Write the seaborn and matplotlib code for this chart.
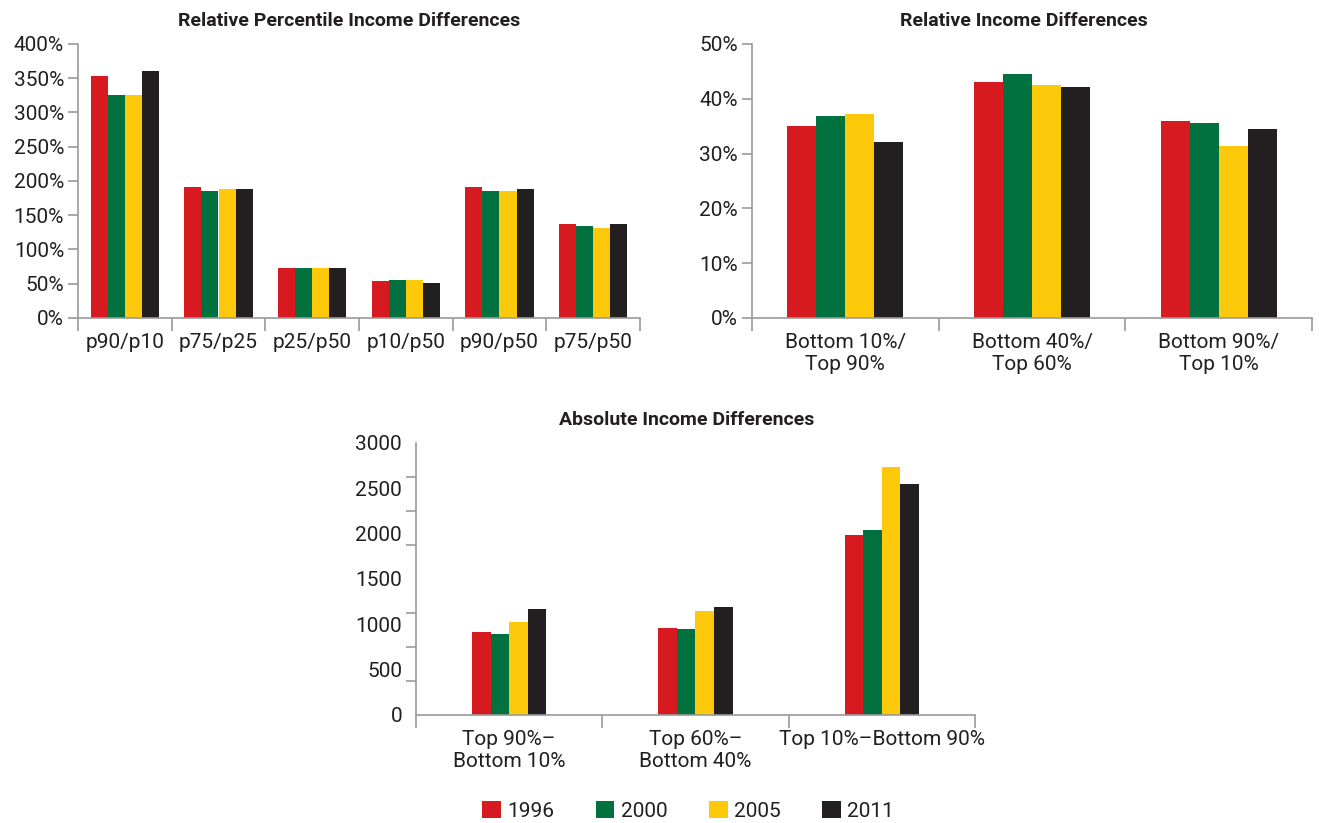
import numpy as np
import pandas as pd
import matplotlib
matplotlib.use("Agg")
import matplotlib.pyplot as plt
import seaborn as sns
from matplotlib.ticker import FixedLocator, FuncFormatter
from matplotlib.patches import Patch

years = ["1996", "2000", "2005", "2011"]
colors = ["#D71920", "#00713F", "#FFC90B", "#231F20"]

# panel 1: relative percentile income differences (%)
pct_labels = ["p90/p10", "p75/p25", "p25/p50", "p10/p50", "p90/p50", "p75/p50"]
pct_1996 = [353, 191, 72.5, 53.5, 191, 137]
pct_2000 = [325, 186, 72.5, 55, 186, 135]
pct_2005 = [326, 188, 72.5, 55, 186, 132]
pct_2011 = [360, 188, 72.5, 50.5, 188, 137]

# panel 2: relative income differences (%)
rel_labels = ["Bottom 10%/\nTop 90%", "Bottom 40%/\nTop 60%", "Bottom 90%/\nTop 10%"]
rel_1996 = [35.0, 43.0, 35.9]
rel_2000 = [36.8, 44.5, 35.5]
rel_2005 = [37.3, 42.6, 31.3]
rel_2011 = [32.1, 42.1, 34.4]

# panel 3: absolute income differences
abs_labels = ["Top 90%\u2013\nBottom 10%", "Top 60%\u2013\nBottom 40%", "Top 10%\u2013Bottom 90%"]
abs_1996 = [910, 965, 1980]
abs_2000 = [888, 953, 2035]
abs_2005 = [1030, 1150, 2735]
abs_2011 = [1172, 1193, 2550]

W, H = 1319, 823
sns.set_style("white")
plt.rcParams['font.family'] = ['Roboto', 'DejaVu Sans']
TXT = "#231F20"
GRAY = "#9A9A9A"
FS = 15


def long_df(labels, series):
    rows = []
    for yr, vals in zip(years, series):
        for lab, v in zip(labels, vals):
            rows.append({"cat": lab, "year": yr, "value": v})
    return pd.DataFrame(rows)


def panel(box, labels, series, width, ymax, ystep, fmt, minor_y=None):
    l, t, r, b = box
    ax = fig.add_axes([l / W, 1 - b / H, (r - l) / W, (b - t) / H])
    df = long_df(labels, series)
    sns.barplot(data=df, x="cat", y="value", hue="year", order=labels,
                hue_order=years, palette=colors, saturation=1, width=width,
                linewidth=0, legend=False, ax=ax)
    n = len(labels)
    ax.set_xlim(-0.5, n - 0.5)
    ax.set_ylim(0, ymax)
    ax.set_xlabel("")
    ax.set_ylabel("")
    sns.despine(ax=ax)
    for s in ["left", "bottom"]:
        ax.spines[s].set_color(GRAY)
        ax.spines[s].set_linewidth(1.2)
    ax.set_xticks(range(n))
    ax.set_xticklabels(labels)
    ax.xaxis.set_minor_locator(FixedLocator(np.arange(-0.5, n, 1.0)))
    ax.tick_params(axis="x", which="both", bottom=True)
    ax.tick_params(axis="x", which="major", length=0, pad=11, labelsize=FS, labelcolor=TXT)
    ax.tick_params(axis="x", which="minor", length=9, width=1.2, color=GRAY, direction="out")
    ax.set_yticks(np.arange(0, ymax + 1e-9, ystep))
    ax.yaxis.set_major_formatter(FuncFormatter(fmt))
    ax.tick_params(axis="y", which="both", left=True)
    if minor_y is not None:
        ax.yaxis.set_minor_locator(FixedLocator(np.arange(0, ymax + 1e-9, minor_y)))
        ax.tick_params(axis="y", which="major", length=0, pad=10)
        ax.tick_params(axis="y", which="minor", length=7, width=1.2, color=GRAY, direction="out")
    else:
        ax.tick_params(axis="y", which="major", length=7, width=1.2, color=GRAY, pad=3)
    ax.tick_params(axis="y", labelsize=FS, labelcolor=TXT)
    return ax


fig = plt.figure(figsize=(W / 100, H / 100), dpi=100)

pct = lambda v, p: f"{v:.0f}%"
panel((78, 44, 640, 318), pct_labels, [pct_1996, pct_2000, pct_2005, pct_2011],
      0.73, 400, 50, pct)
panel((752, 44, 1312, 318), rel_labels, [rel_1996, rel_2000, rel_2005, rel_2011],
      0.62, 50, 10, pct)
panel((416, 443, 975, 715), abs_labels, [abs_1996, abs_2000, abs_2005, abs_2011],
      0.40, 3000, 500, lambda v, p: f"{v:.0f}", minor_y=375)

fig.text(349 / W, 1 - 21 / H, "Relative Percentile Income Differences", ha="center",
         va="center", fontsize=14, fontweight="bold", color=TXT)
fig.text(1024 / W, 1 - 21 / H, "Relative Income Differences", ha="center",
         va="center", fontsize=14, fontweight="bold", color=TXT)
fig.text(687 / W, 1 - 420 / H, "Absolute Income Differences", ha="center",
         va="center", fontsize=14, fontweight="bold", color=TXT)

handles = [Patch(facecolor=c, edgecolor="none") for c in colors]
fig.legend(handles, years, loc="center", bbox_to_anchor=(688 / W, 1 - 811 / H),
           ncol=4, frameon=False, fontsize=FS, handlelength=0.9, handleheight=0.9,
           handletextpad=0.3, columnspacing=2.0, labelcolor=TXT)

fig.savefig("out.png", dpi=100)
